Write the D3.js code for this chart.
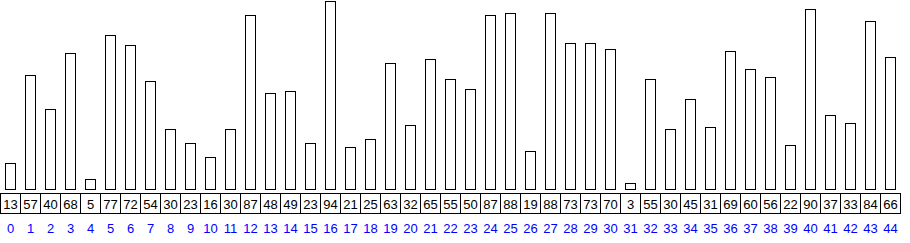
<!DOCTYPE html>
<html>
<head>
<meta charset="utf-8">
<script src="https://cdn.jsdelivr.net/npm/d3@7"></script>
<style>
  body { margin: 0; background: #fff; }
  svg { display: block; font-family: "Liberation Sans", Arial, sans-serif; }
</style>
</head>
<body>
<div id="chart"></div>
<script>
// bar values, one per index
const values = [13, 57, 40, 68, 5, 77, 72, 54, 30, 23, 16, 30, 87, 48, 49, 23, 94, 21, 25, 63,
                32, 65, 55, 50, 87, 88, 19, 88, 73, 73, 70, 3, 55, 30, 45, 31, 69, 60, 56, 22,
                90, 37, 33, 84, 66];
const indices = values.map((d, i) => i);

const width = 910, height = 243;

const svg = d3.select("#chart")
    .append("svg")
    .attr("width", width)
    .attr("height", height);

const x = d3.scaleBand()
    .domain(indices)
    .range([0, 900]);

const y = d3.scaleLinear()
    .domain([0, 94])
    .range([189, 1]);

// bars
svg.selectAll("rect.bar")
    .data(values)
    .enter()
    .append("rect")
    .attr("class", "bar")
    .attr("x", (d, i) => x(i) + 5.5)
    .attr("y", d => y(d) + 0.5)
    .attr("width", 10)
    .attr("height", d => y(0) - y(d))
    .attr("fill", "#fff")
    .attr("stroke", "#000")
    .attr("stroke-width", 1);

// value cells
const cells = svg.selectAll("g.cell")
    .data(values)
    .enter()
    .append("g")
    .attr("class", "cell")
    .attr("transform", (d, i) => `translate(${x(i)},193)`);

cells.append("rect")
    .attr("x", 0.5)
    .attr("y", 0.5)
    .attr("width", x.bandwidth())
    .attr("height", 20)
    .attr("fill", "#fff")
    .attr("stroke", "#000");

cells.append("text")
    .attr("x", x.bandwidth() / 2 + 0.5)
    .attr("y", 15.5)
    .attr("text-anchor", "middle")
    .style("font-size", "13px")
    .style("fill", "#000")
    .text(d => d);

// index labels
svg.selectAll("text.idx")
    .data(indices)
    .enter()
    .append("text")
    .attr("class", "idx")
    .attr("x", d => x(d) + x.bandwidth() / 2 + 0.5)
    .attr("y", 233)
    .attr("text-anchor", "middle")
    .style("font-size", "13px")
    .style("fill", "#0000ff")
    .text(d => d);
</script>
</body>
</html>
